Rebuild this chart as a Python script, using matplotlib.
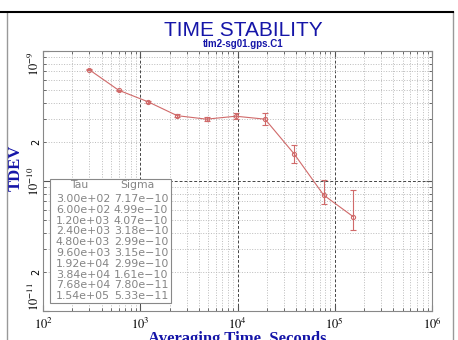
import math

import matplotlib
matplotlib.use("Agg")
import matplotlib.pyplot as plt
from matplotlib.patches import Rectangle
from matplotlib.lines import Line2D
from matplotlib.ticker import FixedLocator, FuncFormatter, LogLocator, NullFormatter

# data
tau = [3.00e+02, 6.00e+02, 1.20e+03, 2.40e+03, 4.80e+03,
       9.60e+03, 1.92e+04, 3.84e+04, 7.68e+04, 1.54e+05]
sigma = [7.17e-10, 4.99e-10, 4.07e-10, 3.18e-10, 2.99e-10,
         3.15e-10, 2.99e-10, 1.61e-10, 7.80e-11, 5.33e-11]
sigma_lo = [7.10e-10, 4.93e-10, 4.01e-10, 3.10e-10, 2.89e-10,
            3.00e-10, 2.70e-10, 1.38e-10, 6.65e-11, 4.23e-11]
sigma_hi = [7.24e-10, 5.05e-10, 4.13e-10, 3.27e-10, 3.10e-10,
            3.32e-10, 3.35e-10, 1.88e-10, 1.02e-10, 8.60e-11]

BLUE = "#1515a8"
RED = "#d06a6a"
GRAY = "#858585"

plt.rcParams["mathtext.fontset"] = "stix"

fig = plt.figure(figsize=(4.58, 3.4), dpi=100)
ax = fig.add_axes([43 / 458, 1 - 311 / 340, 389 / 458, 260 / 340])

yerr = [[s - lo for s, lo in zip(sigma, sigma_lo)],
        [hi - s for s, hi in zip(sigma, sigma_hi)]]
ax.errorbar(tau, sigma, yerr=yerr, color=RED, lw=0.8, elinewidth=0.8,
            capsize=2, marker="o", ms=3, mfc="none", mew=0.8, zorder=3)

ax.set_xscale("log")
ax.set_yscale("log")
ax.set_xlim(1e2, 1e6)
ax.set_ylim(1e-11, 1e-9)

# grids: dotted minor, dashed major
ax.xaxis.set_minor_locator(LogLocator(base=10, subs=range(2, 10)))
ax.yaxis.set_minor_locator(LogLocator(base=10, subs=range(2, 10)))
ax.grid(which="minor", color="#bbbbbb", ls=":", lw=0.7)
ax.grid(which="major", color="#444444", ls=(0, (3, 2)), lw=0.7)


def decade(v, p):
    return r"$10^{%d}$" % round(math.log10(v))


def minor_y(v, p):
    m = v / 10 ** math.floor(math.log10(v) + 1e-9)
    return "2" if abs(m - 2) < 0.01 else ""


ax.xaxis.set_major_formatter(FuncFormatter(decade))
ax.xaxis.set_minor_formatter(NullFormatter())
ax.yaxis.set_major_locator(FixedLocator([1e-11, 1e-10, 1e-9]))
ax.yaxis.set_major_formatter(FuncFormatter(decade))
ax.yaxis.set_minor_formatter(FuncFormatter(minor_y))

ax.tick_params(which="both", direction="in", top=True, right=True, color="#555555")
ax.tick_params(which="major", length=4, labelsize=9)
ax.tick_params(which="minor", length=2.5, labelsize=7)
ax.tick_params(axis="y", which="both", pad=1)
ax.tick_params(axis="x", which="both", pad=4)
fig.canvas.draw()
for lab in ax.get_yticklabels(which="both"):
    lab.set_rotation(90)
    lab.set_va("center")
ylabs = ax.get_yticklabels()
ylabs[0].set_va("bottom")
ylabs[-1].set_va("top")
for sp in ax.spines.values():
    sp.set_color("#888888")

ax.set_xlabel("Averaging Time, Seconds", family="Liberation Serif",
              fontweight="bold", fontsize=12, color=BLUE, labelpad=-1)
ax.set_ylabel("TDEV", family="Liberation Serif", fontweight="bold",
              fontsize=12, color=BLUE)
ax.yaxis.set_label_coords(-0.05, 0.55)

# titles
fig.text(243 / 458, 1 - 30 / 340, "TIME STABILITY", family="Liberation Sans",
         fontsize=15, color=BLUE, ha="center", va="center")
fig.text(243 / 458, 1 - 44 / 340, "tlm2-sg01.gps.C1", family="Liberation Sans",
         fontsize=7, fontweight="bold", color=BLUE, ha="center", va="center")

# table box of values
box = Rectangle((50 / 458, 1 - 303 / 340), 121 / 458, 124 / 340,
                transform=fig.transFigure, fc="white", ec="#888888", lw=0.8, zorder=5)
fig.patches.append(box)
x1, x2 = 56 / 458, 114 / 458
fig.text(70 / 458, 1 - 185 / 340, "Tau", fontsize=7.8, color=GRAY, va="center", zorder=6)
fig.text(120 / 458, 1 - 185 / 340, "Sigma", fontsize=7.8, color=GRAY, va="center", zorder=6)
for i, (t, s) in enumerate(zip(tau, sigma)):
    yy = 1 - (199 + i * 10.8) / 340
    fig.text(x1, yy, f"{t:.2e}", fontsize=7.9, color=GRAY, va="center", zorder=6)
    fig.text(x2, yy, f"{s:.2e}".replace("-", "\u2212"), fontsize=7.9,
             color=GRAY, va="center", zorder=6)

# outer frame
fig.lines.append(Line2D([7 / 458, 7 / 458], [0, 1 - 12 / 340], transform=fig.transFigure,
                        color="#999999", lw=1))
fig.lines.append(Line2D([453 / 458, 453 / 458], [0, 1 - 12 / 340], transform=fig.transFigure,
                        color="#999999", lw=1))
fig.lines.append(Line2D([0, 453 / 458], [1 - 12 / 340, 1 - 12 / 340], transform=fig.transFigure,
                        color="black", lw=1.5))

fig.savefig("out.png", dpi=100)
